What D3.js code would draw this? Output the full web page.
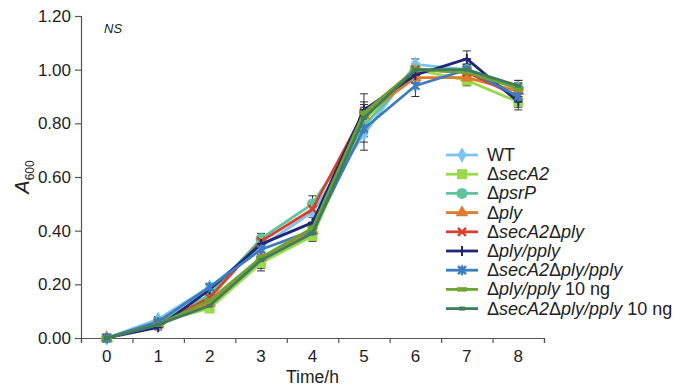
<!DOCTYPE html>
<html>
<head>
<meta charset="utf-8">
<title>A600 growth curves</title>
<script src="https://cdnjs.cloudflare.com/ajax/libs/d3/7.8.5/d3.min.js"></script>
<style>
  body { margin: 0; background: #fff; }
  text { font-family: "Liberation Sans", Arial, sans-serif; fill: #222; }
</style>
</head>
<body>
<script>
var hours = [0, 1, 2, 3, 4, 5, 6, 7, 8];
var yTicks = [0, 0.2, 0.4, 0.6, 0.8, 1.0, 1.2];

// mean values per strain
var wt        = [0, 0.07, 0.19, 0.34, 0.47, 0.76, 1.02, 1.00, 0.93];
var secA2     = [0, 0.06, 0.11, 0.28, 0.38, 0.81, 1.00, 0.96, 0.88];
var psrP      = [0, 0.06, 0.16, 0.37, 0.50, 0.79, 1.00, 1.00, 0.93];
var ply       = [0, 0.05, 0.13, 0.30, 0.40, 0.83, 0.97, 0.97, 0.92];
var secA2ply  = [0, 0.05, 0.15, 0.36, 0.48, 0.84, 1.00, 0.99, 0.90];
var plyPply   = [0, 0.04, 0.18, 0.35, 0.43, 0.85, 0.98, 1.04, 0.88];
var secA2plyPply = [0, 0.06, 0.19, 0.33, 0.40, 0.78, 0.94, 1.00, 0.90];
var ply10     = [0, 0.05, 0.14, 0.30, 0.41, 0.84, 1.00, 0.99, 0.93];
var secA2ply10 = [0, 0.05, 0.12, 0.29, 0.39, 0.82, 1.00, 1.00, 0.94];

// error (sd) per strain
var errWt    = [0, 0.01, 0.01, 0.02, 0.04, 0.06, 0.02, 0.02, 0.02];
var errSecA2 = [0, 0.01, 0.01, 0.02, 0.02, 0.03, 0.02, 0.02, 0.02];
var errPsrP  = [0, 0.01, 0.01, 0.02, 0.03, 0.04, 0.02, 0.02, 0.03];
var errPly   = [0, 0.01, 0.01, 0.02, 0.02, 0.03, 0.02, 0.02, 0.02];
var errSecA2ply = [0, 0.01, 0.01, 0.02, 0.02, 0.04, 0.02, 0.02, 0.02];
var errPlyPply  = [0, 0.01, 0.01, 0.02, 0.02, 0.06, 0.03, 0.03, 0.03];
var errSecA2plyPply = [0, 0.01, 0.01, 0.02, 0.03, 0.05, 0.04, 0.02, 0.03];
var errPly10 = [0, 0.01, 0.01, 0.02, 0.02, 0.03, 0.02, 0.02, 0.02];
var errSecA2ply10 = [0, 0.01, 0.01, 0.04, 0.02, 0.03, 0.02, 0.02, 0.02];

// legend text pieces: [text, italic]
var series = [
  {label: [["WT",0]], values: wt, err: errWt, color: "#7dc3ee", marker: "diamond"},
  {label: [["Δ",0],["secA2",1]], values: secA2, err: errSecA2, color: "#9ad94a", marker: "square"},
  {label: [["Δ",0],["psrP",1]], values: psrP, err: errPsrP, color: "#5fc39b", marker: "circle"},
  {label: [["Δ",0],["ply",1]], values: ply, err: errPly, color: "#e07a2c", marker: "triangle"},
  {label: [["Δ",0],["secA2",1],["Δ",0],["ply",1]], values: secA2ply, err: errSecA2ply, color: "#d8402c", marker: "x"},
  {label: [["Δ",0],["ply/pply",1]], values: plyPply, err: errPlyPply, color: "#1f2777", marker: "plus"},
  {label: [["Δ",0],["secA2",1],["Δ",0],["ply/pply",1]], values: secA2plyPply, err: errSecA2plyPply, color: "#3d7cbf", marker: "star"},
  {label: [["Δ",0],["ply/pply",1],[" 10 ng",0]], values: ply10, err: errPly10, color: "#6ea532", marker: "dash"},
  {label: [["Δ",0],["secA2",1],["Δ",0],["ply/pply",1],[" 10 ng",0]], values: secA2ply10, err: errSecA2ply10, color: "#3e7d5c", marker: "smalldash"}
];

var width = 683, height = 387;
var mLeft = 81, mRight = 544, mTop = 16, mBottom = 338;

var x = d3.scaleBand().domain(hours).range([mLeft, mRight]);
var xEdge = d3.scaleLinear().domain([-0.5, 8.5]).range([mLeft, mRight]);
var y = d3.scaleLinear().domain([0, 1.2]).range([mBottom, mTop]);

var svg = d3.select("body").append("svg").attr("width", width).attr("height", height);

function cx(h) { return x(h) + x.bandwidth() / 2; }

// y axis
var yAxis = svg.append("g").attr("transform", "translate(" + mLeft + ",0)")
  .call(d3.axisLeft(y).tickValues(yTicks).tickSize(6).tickFormat(d3.format(".2f")));
yAxis.selectAll("text").style("font-size", "17px").attr("x", -10);

// x axis: ticks on band edges, labels at centres
var xAxis = svg.append("g").attr("transform", "translate(0," + mBottom + ")")
  .call(d3.axisBottom(xEdge).tickValues(d3.range(-0.5, 9, 1)).tickSize(5).tickFormat(""));
var xLab = svg.append("g").attr("transform", "translate(0," + mBottom + ")")
  .call(d3.axisBottom(x).tickSize(0).tickPadding(12));
xLab.select(".domain").remove();
xLab.selectAll("text").style("font-size", "17px");

svg.selectAll(".domain").attr("stroke", "#555").attr("stroke-width", 1.2);
svg.selectAll(".tick line").attr("stroke", "#555").attr("stroke-width", 1.2);

// titles
svg.append("text").attr("x", (mLeft + mRight) / 2).attr("y", 383).attr("text-anchor", "middle")
  .style("font-size", "17.5px").text("Time/h");
var yt = svg.append("text").attr("transform", "translate(29,177) rotate(-90)").attr("text-anchor", "middle")
  .style("font-size", "20px");
yt.append("tspan").style("font-style", "italic").text("A");
yt.append("tspan").attr("dy", 5).style("font-size", "12px").text("600");
svg.append("text").attr("x", 104).attr("y", 33).style("font-size", "13px").style("font-style", "italic").text("NS");

// markers
function drawMarker(g, type, color, px, py) {
  var tr = "translate(" + px + "," + py + ")";
  if (type === "diamond") {
    g.append("path").attr("d", d3.symbol(d3.symbolDiamond, 70)()).attr("transform", tr).attr("fill", color);
  } else if (type === "square") {
    g.append("rect").attr("x", px - 5).attr("y", py - 5).attr("width", 10).attr("height", 10).attr("fill", color);
  } else if (type === "circle") {
    g.append("circle").attr("cx", px).attr("cy", py).attr("r", 5.5).attr("fill", color);
  } else if (type === "triangle") {
    g.append("path").attr("d", d3.symbol(d3.symbolTriangle, 70)()).attr("transform", tr).attr("fill", color);
  } else if (type === "x") {
    g.append("path").attr("d", "M-4,-4L4,4M-4,4L4,-4").attr("transform", tr)
      .attr("stroke", color).attr("stroke-width", 2.4).attr("fill", "none");
  } else if (type === "plus") {
    g.append("path").attr("d", "M-4,0L4,0M0,-5L0,5").attr("transform", tr)
      .attr("stroke", color).attr("stroke-width", 2).attr("fill", "none");
  } else if (type === "star") {
    g.append("path").attr("d", "M-4,-4L4,4M-4,4L4,-4M0,-5L0,5").attr("transform", tr)
      .attr("stroke", color).attr("stroke-width", 2.4).attr("fill", "none");
  } else if (type === "dash") {
    g.append("rect").attr("x", px - 5).attr("y", py - 2.2).attr("width", 10).attr("height", 4.4).attr("fill", color);
  } else if (type === "smalldash") {
    g.append("rect").attr("x", px - 3).attr("y", py - 2).attr("width", 6).attr("height", 4).attr("fill", color);
  }
}

var line = d3.line().x(function(d, i) { return cx(hours[i]); }).y(function(d) { return y(d); });

// error bars
var eb = svg.append("g");
series.forEach(function(s) {
  s.values.forEach(function(v, i) {
    if (!s.err[i]) return;
    var px = cx(hours[i]);
    eb.append("line").attr("x1", px).attr("x2", px).attr("y1", y(v - s.err[i])).attr("y2", y(v + s.err[i]))
      .attr("stroke", "#333").attr("stroke-width", 1);
    [v - s.err[i], v + s.err[i]].forEach(function(e) {
      eb.append("line").attr("x1", px - 4).attr("x2", px + 4).attr("y1", y(e)).attr("y2", y(e))
        .attr("stroke", "#333").attr("stroke-width", 1);
    });
  });
});

series.forEach(function(s) {
  var g = svg.append("g");
  g.append("path").datum(s.values).attr("d", line).attr("fill", "none")
    .attr("stroke", s.color).attr("stroke-width", 2.8).attr("stroke-linejoin", "round");
  s.values.forEach(function(v, i) { drawMarker(g, s.marker, s.color, cx(hours[i]), y(v)); });
});

// legend
var lg = svg.append("g");
series.forEach(function(s, i) {
  var ly = 155 + i * 19.2;
  lg.append("line").attr("x1", 446).attr("x2", 478).attr("y1", ly).attr("y2", ly)
    .attr("stroke", s.color).attr("stroke-width", 2.8);
  drawMarker(lg, s.marker, s.color, 462, ly);
  var t = lg.append("text").attr("x", 487).attr("y", ly + 6).style("font-size", "18px");
  s.label.forEach(function(p) {
    t.append("tspan").style("font-style", p[1] ? "italic" : "normal").text(p[0]);
  });
});
</script>
</body>
</html>
